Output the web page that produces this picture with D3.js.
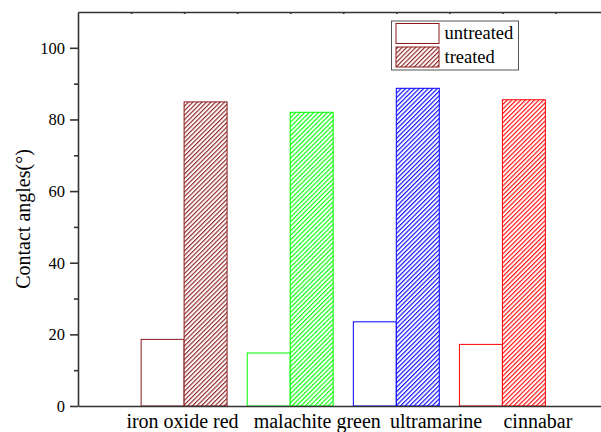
<!DOCTYPE html>
<html>
<head>
<meta charset="utf-8">
<script src="https://cdn.jsdelivr.net/npm/d3@7"></script>
<style>
  body { margin: 0; background: #fff; }
  svg { display: block; font-family: "Liberation Serif", "Times New Roman", serif; }
</style>
</head>
<body>
<div id="chart"></div>
<script>
// pigments and their contact angles (deg)
const pigments = ['iron oxide red', 'malachite green', 'ultramarine', 'cinnabar'];
const untreated = [18.6, 14.8, 23.5, 17.2];
const treated = [84.9, 82.0, 88.7, 85.5];
const barColors = ['#8b1a1a', '#00ff00', '#0000ff', '#ff0000'];
const yTicks = [0, 20, 40, 60, 80, 100];
const yMinor = [10, 30, 50, 70, 90];
// the category names in the original sit a bit off the group centres
const labelAt = [0.98, 2.25, 3.37, 4.33];

const w = 601, h = 432;
const plotLeft = 78, plotTop = 12, plotBottom = 406;

const svg = d3.select('#chart')
    .append('svg')
    .attr('width', w)
    .attr('height', h);

// category positions 1..4, axis runs 0..5 (right end is cut off by the window)
const x = d3.scaleLinear().domain([0, 5]).range([plotLeft, plotLeft + 5 * 106.1]);
const y = d3.scaleLinear().domain([0, 110]).range([plotBottom, plotTop]);
const bw = 0.405; // bar width in category units

const defs = svg.append('defs');
barColors.forEach((c, i) => {
    const p = defs.append('pattern')
        .attr('id', 'hatch' + i)
        .attr('patternUnits', 'userSpaceOnUse')
        .attr('width', 3.2)
        .attr('height', 3.2)
        .attr('patternTransform', 'rotate(45)');
    p.append('rect').attr('width', 3.2).attr('height', 3.2).attr('fill', '#fff');
    p.append('line')
        .attr('x1', 0.6).attr('y1', -1).attr('x2', 0.6).attr('y2', 4.2)
        .attr('stroke', c)
        .attr('stroke-width', 1.1);
});

// untreated bars (hollow)
svg.append('g').selectAll('rect')
    .data(untreated)
    .join('rect')
    .attr('x', (d, i) => x(i + 1 - bw))
    .attr('y', d => y(d))
    .attr('width', x(bw) - x(0))
    .attr('height', d => y(0) - y(d))
    .attr('fill', '#fff')
    .attr('stroke', (d, i) => barColors[i])
    .attr('stroke-width', 1);

// treated bars (hatched)
svg.append('g').selectAll('rect')
    .data(treated)
    .join('rect')
    .attr('x', (d, i) => x(i + 1))
    .attr('y', d => y(d))
    .attr('width', x(bw) - x(0))
    .attr('height', d => y(0) - y(d))
    .attr('fill', (d, i) => `url(#hatch${i})`)
    .attr('stroke', (d, i) => barColors[i])
    .attr('stroke-width', 1);

// y axis, major + minor ticks
const yAxis = svg.append('g')
    .attr('transform', `translate(${plotLeft},0)`)
    .call(d3.axisLeft(y).tickValues(yTicks).tickSize(8).tickSizeOuter(0).tickPadding(5));
svg.append('g')
    .attr('transform', `translate(${plotLeft},0)`)
    .call(d3.axisLeft(y).tickValues(yMinor).tickSize(4).tickFormat(''))
    .select('.domain').remove();
yAxis.selectAll('text')
    .attr('font-family', '"Liberation Serif", serif')
    .attr('font-size', 16.5)
    .attr('fill', '#000');

// bottom axis line
svg.append('g')
    .attr('transform', `translate(0,${plotBottom})`)
    .call(d3.axisBottom(x).tickValues([]).tickSizeOuter(0));

// category names
const xLab = svg.append('g')
    .attr('transform', `translate(0,${plotBottom})`)
    .call(d3.axisBottom(x).tickValues(labelAt).tickSize(0).tickSizeOuter(0).tickPadding(8)
        .tickFormat((d, i) => pigments[i]));
xLab.select('.domain').remove();
xLab.selectAll('text')
    .attr('font-family', '"Liberation Serif", serif')
    .attr('font-size', 20)
    .attr('fill', '#000');

// top frame line with small inward ticks
svg.append('g')
    .attr('transform', `translate(0,${plotTop})`)
    .call(d3.axisBottom(x).tickValues(d3.range(0.5, 5, 0.5)).tickSize(2).tickSizeOuter(0).tickFormat(''));

svg.selectAll('.domain, .tick line')
    .attr('stroke', '#333')
    .attr('stroke-width', 1.6);

// axis title
svg.append('text')
    .attr('transform', `translate(30,${(plotTop + plotBottom) / 2 + 10}) rotate(-90)`)
    .attr('text-anchor', 'middle')
    .attr('font-size', 20)
    .text('Contact angles(°)');

// legend
const lg = svg.append('g').attr('transform', 'translate(391.5,21)');
lg.append('rect')
    .attr('width', 127).attr('height', 49)
    .attr('fill', '#fff')
    .attr('stroke', '#555')
    .attr('stroke-width', 1);
const items = [
    { label: 'untreated', fill: '#fff' },
    { label: 'treated', fill: 'url(#hatch0)' }
];
items.forEach((it, i) => {
    lg.append('rect')
        .attr('x', 4.5).attr('y', 2.5 + i * 23.5)
        .attr('width', 43).attr('height', 20)
        .attr('fill', it.fill)
        .attr('stroke', barColors[0]);
    lg.append('text')
        .attr('x', 53).attr('y', 18 + i * 24)
        .attr('font-size', 18.5)
        .text(it.label);
});
</script>
</body>
</html>
